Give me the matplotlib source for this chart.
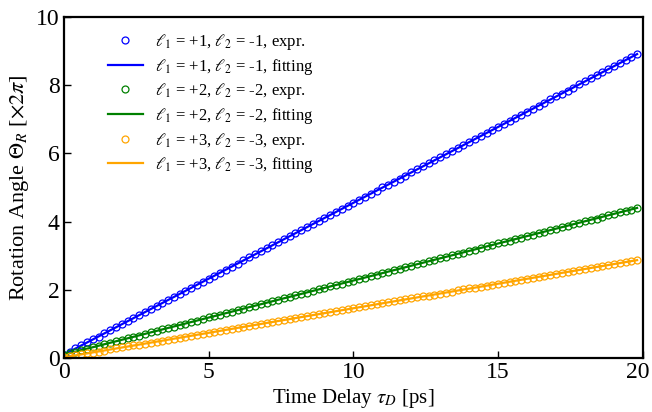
import numpy as np
import matplotlib
matplotlib.use("Agg")
import matplotlib.pyplot as plt
import matplotlib.transforms as mtransforms

# ---------------------------------------------------------------------
# time delay grid [ps]
t_delay = np.round(np.arange(0.0, 20.0, 0.2), 1)

# measured rotation angle [x 2pi]
rot_l1 = [0.10, 0.19, 0.28, 0.37, 0.46, 0.55, 0.63, 0.72, 0.81, 0.90,
          0.99, 1.08, 1.17, 1.26, 1.35, 1.44, 1.52, 1.61, 1.70, 1.79,
          1.88, 1.97, 2.06, 2.15, 2.24, 2.33, 2.41, 2.50, 2.59, 2.68,
          2.77, 2.86, 2.95, 3.04, 3.13, 3.22, 3.30, 3.39, 3.48, 3.57,
          3.66, 3.75, 3.84, 3.93, 4.02, 4.11, 4.19, 4.28, 4.37, 4.46,
          4.55, 4.64, 4.73, 4.82, 4.91, 5.00, 5.08, 5.17, 5.26, 5.35,
          5.44, 5.53, 5.62, 5.71, 5.80, 5.89, 5.97, 6.06, 6.15, 6.24,
          6.33, 6.42, 6.51, 6.60, 6.69, 6.78, 6.86, 6.95, 7.04, 7.13,
          7.22, 7.31, 7.40, 7.49, 7.58, 7.67, 7.75, 7.84, 7.93, 8.02,
          8.11, 8.20, 8.29, 8.38, 8.47, 8.56, 8.64, 8.73, 8.82, 8.91]

rot_l2 = [0.10, 0.14, 0.19, 0.23, 0.27, 0.32, 0.36, 0.40, 0.45, 0.49,
          0.53, 0.58, 0.62, 0.66, 0.71, 0.75, 0.79, 0.84, 0.88, 0.92,
          0.97, 1.01, 1.05, 1.10, 1.14, 1.19, 1.23, 1.27, 1.32, 1.36,
          1.40, 1.45, 1.49, 1.53, 1.58, 1.62, 1.66, 1.71, 1.75, 1.79,
          1.84, 1.88, 1.92, 1.97, 2.01, 2.05, 2.10, 2.14, 2.18, 2.23,
          2.27, 2.31, 2.36, 2.40, 2.44, 2.49, 2.53, 2.57, 2.62, 2.66,
          2.70, 2.75, 2.79, 2.83, 2.88, 2.92, 2.96, 3.01, 3.05, 3.09,
          3.14, 3.18, 3.22, 3.27, 3.31, 3.36, 3.40, 3.44, 3.49, 3.53,
          3.57, 3.62, 3.66, 3.70, 3.75, 3.79, 3.83, 3.88, 3.92, 3.96,
          4.01, 4.05, 4.09, 4.14, 4.18, 4.22, 4.27, 4.31, 4.35, 4.40]

rot_l3 = [0.02, 0.05, 0.08, 0.11, 0.14, 0.16, 0.19, 0.22, 0.25, 0.28,
          0.31, 0.34, 0.37, 0.39, 0.42, 0.45, 0.48, 0.51, 0.54, 0.57,
          0.60, 0.62, 0.65, 0.68, 0.71, 0.74, 0.77, 0.80, 0.83, 0.86,
          0.88, 0.91, 0.94, 0.97, 1.00, 1.03, 1.06, 1.09, 1.11, 1.14,
          1.17, 1.20, 1.23, 1.26, 1.29, 1.32, 1.34, 1.37, 1.40, 1.43,
          1.46, 1.49, 1.52, 1.55, 1.58, 1.60, 1.63, 1.66, 1.69, 1.72,
          1.75, 1.78, 1.81, 1.83, 1.86, 1.89, 1.92, 1.95, 1.98, 2.01,
          2.04, 2.06, 2.09, 2.12, 2.15, 2.18, 2.21, 2.24, 2.27, 2.30,
          2.32, 2.35, 2.38, 2.41, 2.44, 2.47, 2.50, 2.53, 2.55, 2.58,
          2.61, 2.64, 2.67, 2.70, 2.73, 2.76, 2.78, 2.81, 2.84, 2.87]

# linear fits (end points)
fit_t = [0.0, 19.8]
fit_l1 = [0.10, 8.91]
fit_l2 = [0.10, 4.40]
fit_l3 = [0.02, 2.87]

series = [
    (rot_l1, fit_l1, "blue", "+1", "-1"),
    (rot_l2, fit_l2, "green", "+2", "-2"),
    (rot_l3, fit_l3, "orange", "+3", "-3"),
]

plt.rcParams["font.family"] = ["Liberation Serif", "DejaVu Serif"]
plt.rcParams["mathtext.fontset"] = "stix"

fig = plt.figure(figsize=(6.52, 4.12), dpi=100)
ax = fig.add_axes([0.098, 0.131, 0.888, 0.828])

for rot, fit, col, a, b in series:
    ax.plot(t_delay, rot, "o", mfc="none", mec=col, ms=5, mew=0.9,
            label=rf"$\ell_1$ = {a}, $\ell_2$ = {b}, expr.")
    ax.plot(fit_t, fit, "-", color=col, lw=1.6,
            label=rf"$\ell_1$ = {a}, $\ell_2$ = {b}, fitting")

ax.set_xlim(0, 20)
ax.set_ylim(0, 10)
ax.set_xticks([0, 5, 10, 15, 20])
ax.set_yticks([0, 2, 4, 6, 8, 10])
ax.tick_params(direction="in", length=5, width=1, labelsize=17,
               top=False, right=False, pad=3)
for s in ax.spines.values():
    s.set_linewidth(1.6)

# keep the last x tick label inside the canvas
last = ax.get_xticklabels()[-1]
last.set_transform(last.get_transform() +
                   mtransforms.ScaledTranslation(-4 / 72, 0, fig.dpi_scale_trans))

ax.set_xlabel(r"Time Delay $\tau_D$ [ps]", fontsize=15, labelpad=3)
ax.set_ylabel(r"Rotation Angle $\Theta_R$ [$\times 2\pi$]", fontsize=16,
              labelpad=4)

ax.legend(loc="upper left", frameon=False, fontsize=12, numpoints=1,
          handlelength=2.1, handletextpad=0.75, bbox_to_anchor=(0.05, 1.0),
          labelspacing=0.28)

fig.savefig("out.png", dpi=100)
